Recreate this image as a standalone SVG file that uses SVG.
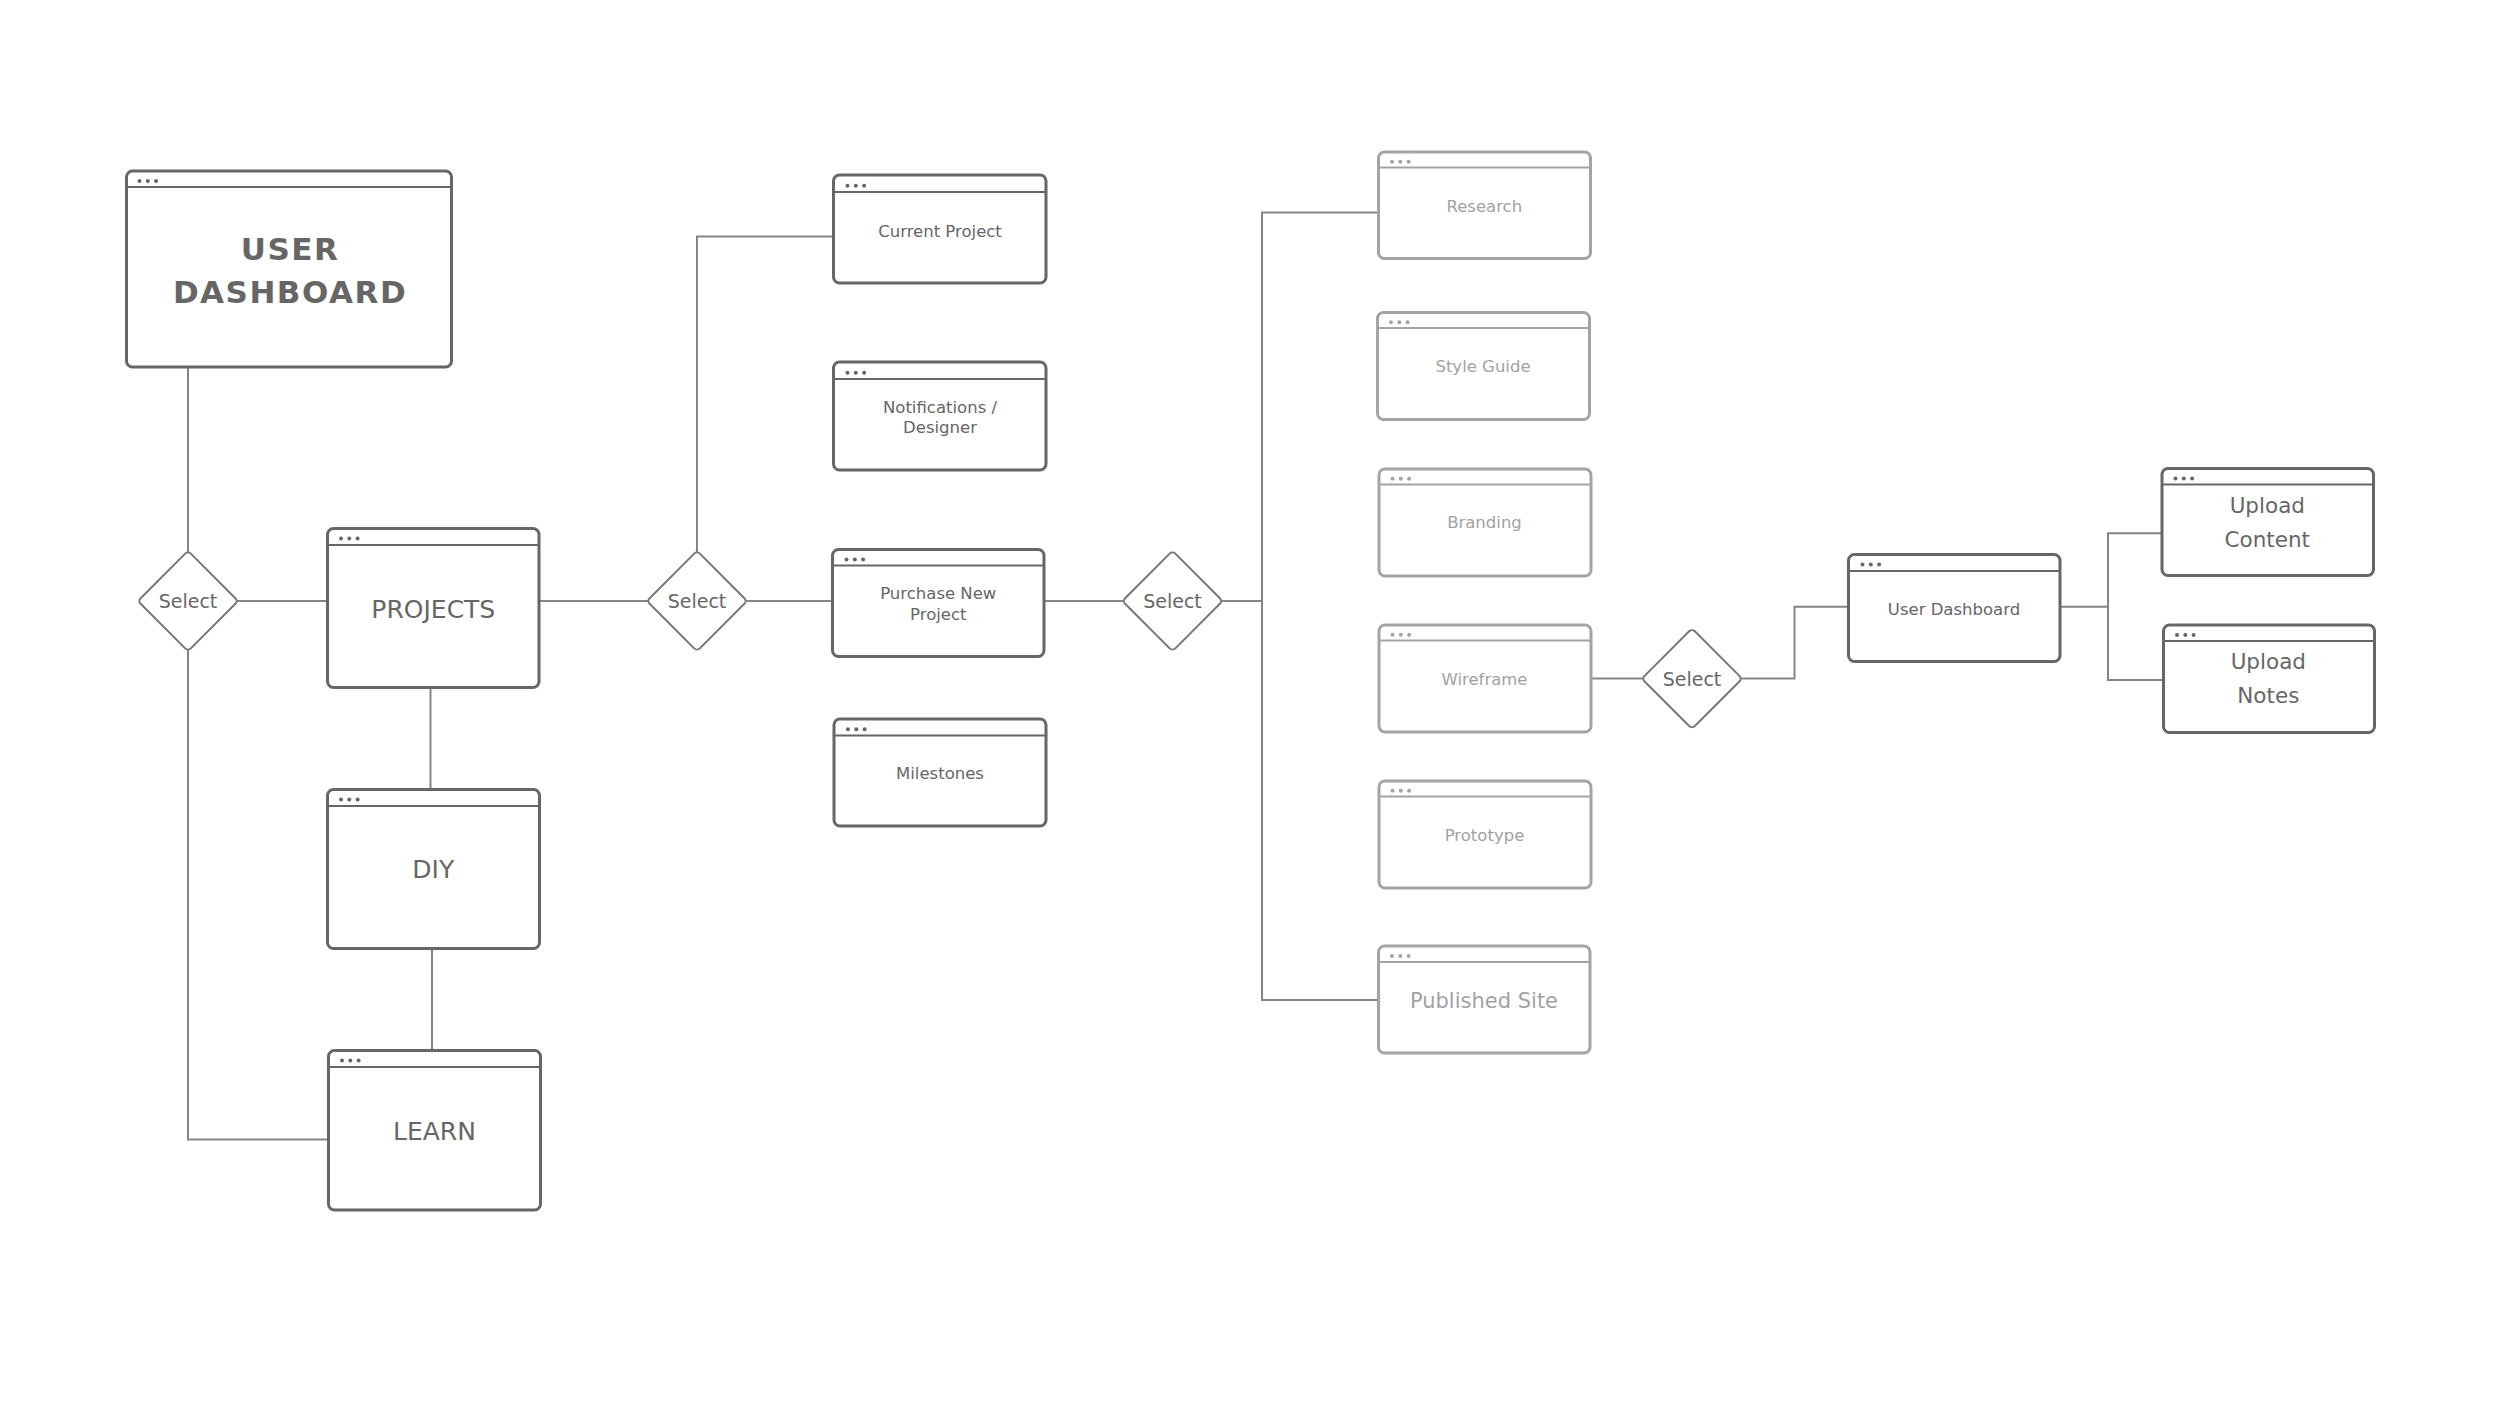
<svg xmlns="http://www.w3.org/2000/svg" width="2500" height="1402" viewBox="0 0 2500 1402">
<style>
  .bg{fill:#ffffff}
  .box{fill:#ffffff;stroke:#666666;stroke-width:3}
  .hdr{stroke:#666666;stroke-width:2}
  .dot{fill:#666666}
  .lbox .box{stroke:#a4a4a4}
  .lbox .hdr{stroke:#a4a4a4}
  .lbox .dot{fill:#a4a4a4}
  .t{font-family:"DejaVu Sans",Verdana,sans-serif;fill:#666666;text-anchor:middle}
  .lbox .t{fill:#a2a2a2}
  .big{font-size:31px;font-weight:bold;letter-spacing:1.5px}
  .mid{font-size:25px}
  .sm{font-size:16.5px}
  .up{font-size:21.5px}
  .pub{font-size:21px}
  .dia{fill:#ffffff;stroke:#777777;stroke-width:2}
  .sel{font-size:19px}
  .conn{fill:none;stroke:#858585;stroke-width:2}
</style>
<rect class="bg" x="0" y="0" width="2500" height="1402"/>

<g id="connectors">
  <path class="conn" d="M188,367 V552"/>
  <path class="conn" d="M188,650 V1139.5 H328.5"/>
  <path class="conn" d="M237,601 H327.5"/>
  <path class="conn" d="M430.5,687.5 V789.5"/>
  <path class="conn" d="M432,948.5 V1050.5"/>
  <path class="conn" d="M539,601 H648"/>
  <path class="conn" d="M746,601 H832.5"/>
  <path class="conn" d="M697,552 V236.5 H833.5"/>
  <path class="conn" d="M1044,601 H1123.5"/>
  <path class="conn" d="M1221.5,601 H1262"/>
  <path class="conn" d="M1378.5,212.5 H1262 V1000 H1378.5"/>
  <path class="conn" d="M1591,678.5 H1643"/>
  <path class="conn" d="M1741,678.5 H1794.5 V606.7 H1848.5"/>
  <path class="conn" d="M2060,606.7 H2108"/>
  <path class="conn" d="M2162,533.3 H2108 V680 H2163.5"/>
</g>

<g id="user-dashboard">
  <rect class="box" x="126.5" y="171" width="325" height="196" rx="6"/>
  <line class="hdr" x1="127.5" y1="187" x2="450.5" y2="187"/>
  <circle class="dot" cx="139.5" cy="181" r="2"/><circle class="dot" cx="147.8" cy="181" r="2"/><circle class="dot" cx="156.1" cy="181" r="2"/>
  <text class="t big" x="290" y="260">USER</text>
  <text class="t big" x="290" y="302.7">DASHBOARD</text>
</g>

<g id="select-1">
  <rect class="dia" x="-35.5" y="-35.5" width="71" height="71" rx="4" transform="translate(188,601) rotate(45)"/>
  <text class="t sel" x="188" y="608">Select</text>
</g>

<g id="projects">
  <rect class="box" x="327.5" y="528.5" width="211.5" height="159" rx="6"/>
  <line class="hdr" x1="328.5" y1="545" x2="538" y2="545"/>
  <circle class="dot" cx="341" cy="538.5" r="2"/><circle class="dot" cx="349.3" cy="538.5" r="2"/><circle class="dot" cx="357.6" cy="538.5" r="2"/>
  <text class="t mid" x="433.3" y="617.7">PROJECTS</text>
</g>

<g id="diy">
  <rect class="box" x="327.5" y="789.5" width="212" height="159" rx="6"/>
  <line class="hdr" x1="328.5" y1="806" x2="538.5" y2="806"/>
  <circle class="dot" cx="341" cy="799.5" r="2"/><circle class="dot" cx="349.3" cy="799.5" r="2"/><circle class="dot" cx="357.6" cy="799.5" r="2"/>
  <text class="t mid" x="433.3" y="878">DIY</text>
</g>

<g id="learn">
  <rect class="box" x="328.5" y="1050.5" width="212" height="159.5" rx="6"/>
  <line class="hdr" x1="329.5" y1="1067" x2="539.5" y2="1067"/>
  <circle class="dot" cx="342" cy="1060.5" r="2"/><circle class="dot" cx="350.3" cy="1060.5" r="2"/><circle class="dot" cx="358.6" cy="1060.5" r="2"/>
  <text class="t mid" x="434.5" y="1140">LEARN</text>
</g>

<g id="select-2">
  <rect class="dia" x="-35.5" y="-35.5" width="71" height="71" rx="4" transform="translate(697,601) rotate(45)"/>
  <text class="t sel" x="697" y="608">Select</text>
</g>

<g id="current-project">
  <rect class="box" x="833.5" y="175" width="212.5" height="108" rx="6"/>
  <line class="hdr" x1="834.5" y1="192" x2="1045" y2="192"/>
  <circle class="dot" cx="847.5" cy="185.7" r="2"/><circle class="dot" cx="855.8" cy="185.7" r="2"/><circle class="dot" cx="864.1" cy="185.7" r="2"/>
  <text class="t sm" x="940" y="236.5">Current Project</text>
</g>

<g id="notifications">
  <rect class="box" x="833.5" y="362" width="212.5" height="108" rx="6"/>
  <line class="hdr" x1="834.5" y1="379" x2="1045" y2="379"/>
  <circle class="dot" cx="847.5" cy="372.7" r="2"/><circle class="dot" cx="855.8" cy="372.7" r="2"/><circle class="dot" cx="864.1" cy="372.7" r="2"/>
  <text class="t sm" x="940" y="412.7">Notifications /</text>
  <text class="t sm" x="940" y="433.3">Designer</text>
</g>

<g id="purchase-new-project">
  <rect class="box" x="832.5" y="549.5" width="211.5" height="107" rx="6"/>
  <line class="hdr" x1="833.5" y1="565.5" x2="1043" y2="565.5"/>
  <circle class="dot" cx="846.5" cy="559.5" r="2"/><circle class="dot" cx="854.8" cy="559.5" r="2"/><circle class="dot" cx="863.1" cy="559.5" r="2"/>
  <text class="t sm" x="938.3" y="599.3">Purchase New</text>
  <text class="t sm" x="938.3" y="620">Project</text>
</g>

<g id="milestones">
  <rect class="box" x="834" y="719" width="212" height="107" rx="6"/>
  <line class="hdr" x1="835" y1="735.5" x2="1045" y2="735.5"/>
  <circle class="dot" cx="848" cy="729.2" r="2"/><circle class="dot" cx="856.3" cy="729.2" r="2"/><circle class="dot" cx="864.6" cy="729.2" r="2"/>
  <text class="t sm" x="940" y="779">Milestones</text>
</g>

<g id="select-3">
  <rect class="dia" x="-35.5" y="-35.5" width="71" height="71" rx="4" transform="translate(1172.5,601) rotate(45)"/>
  <text class="t sel" x="1172.5" y="608">Select</text>
</g>

<g id="research" class="lbox">
  <rect class="box" x="1378.5" y="152" width="212" height="106.5" rx="6"/>
  <line class="hdr" x1="1379.5" y1="167.5" x2="1589.5" y2="167.5"/>
  <circle class="dot" cx="1392" cy="161.7" r="2"/><circle class="dot" cx="1400.3" cy="161.7" r="2"/><circle class="dot" cx="1408.6" cy="161.7" r="2"/>
  <text class="t sm" x="1484.3" y="211.7">Research</text>
</g>

<g id="style-guide" class="lbox">
  <rect class="box" x="1377.5" y="312.5" width="212" height="107" rx="6"/>
  <line class="hdr" x1="1378.5" y1="328" x2="1588.5" y2="328"/>
  <circle class="dot" cx="1391" cy="322.2" r="2"/><circle class="dot" cx="1399.3" cy="322.2" r="2"/><circle class="dot" cx="1407.6" cy="322.2" r="2"/>
  <text class="t sm" x="1483" y="372">Style Guide</text>
</g>

<g id="branding" class="lbox">
  <rect class="box" x="1379" y="469" width="212" height="107" rx="6"/>
  <line class="hdr" x1="1380" y1="484.5" x2="1590" y2="484.5"/>
  <circle class="dot" cx="1392.5" cy="478.7" r="2"/><circle class="dot" cx="1400.8" cy="478.7" r="2"/><circle class="dot" cx="1409.1" cy="478.7" r="2"/>
  <text class="t sm" x="1484.5" y="528">Branding</text>
</g>

<g id="wireframe" class="lbox">
  <rect class="box" x="1379" y="625" width="212" height="107" rx="6"/>
  <line class="hdr" x1="1380" y1="640.5" x2="1590" y2="640.5"/>
  <circle class="dot" cx="1392.5" cy="634.7" r="2"/><circle class="dot" cx="1400.8" cy="634.7" r="2"/><circle class="dot" cx="1409.1" cy="634.7" r="2"/>
  <text class="t sm" x="1484.5" y="685">Wireframe</text>
</g>

<g id="prototype" class="lbox">
  <rect class="box" x="1379" y="781" width="212" height="107" rx="6"/>
  <line class="hdr" x1="1380" y1="796.5" x2="1590" y2="796.5"/>
  <circle class="dot" cx="1392.5" cy="790.7" r="2"/><circle class="dot" cx="1400.8" cy="790.7" r="2"/><circle class="dot" cx="1409.1" cy="790.7" r="2"/>
  <text class="t sm" x="1484.5" y="841">Prototype</text>
</g>

<g id="published-site" class="lbox">
  <rect class="box" x="1378.5" y="946" width="211.5" height="107" rx="6"/>
  <line class="hdr" x1="1379.5" y1="962" x2="1589" y2="962"/>
  <circle class="dot" cx="1392" cy="956" r="2"/><circle class="dot" cx="1400.3" cy="956" r="2"/><circle class="dot" cx="1408.6" cy="956" r="2"/>
  <text class="t pub" x="1484" y="1007.7">Published Site</text>
</g>

<g id="select-4">
  <rect class="dia" x="-35.5" y="-35.5" width="71" height="71" rx="4" transform="translate(1692,678.7) rotate(45)"/>
  <text class="t sel" x="1692" y="685.7">Select</text>
</g>

<g id="user-dashboard-2">
  <rect class="box" x="1848.5" y="554.5" width="211.5" height="107" rx="6"/>
  <line class="hdr" x1="1849.5" y1="571" x2="2059" y2="571"/>
  <circle class="dot" cx="1862.5" cy="564.5" r="2"/><circle class="dot" cx="1870.8" cy="564.5" r="2"/><circle class="dot" cx="1879.1" cy="564.5" r="2"/>
  <text class="t sm" x="1954" y="615">User Dashboard</text>
</g>

<g id="upload-content">
  <rect class="box" x="2162" y="468.5" width="211.5" height="107" rx="6"/>
  <line class="hdr" x1="2163" y1="484.5" x2="2372.5" y2="484.5"/>
  <circle class="dot" cx="2175.5" cy="478.5" r="2"/><circle class="dot" cx="2183.8" cy="478.5" r="2"/><circle class="dot" cx="2192.1" cy="478.5" r="2"/>
  <text class="t up" x="2267.3" y="513.3">Upload</text>
  <text class="t up" x="2267.3" y="547.3">Content</text>
</g>

<g id="upload-notes">
  <rect class="box" x="2163.5" y="625" width="211" height="107.5" rx="6"/>
  <line class="hdr" x1="2164.5" y1="641" x2="2373.5" y2="641"/>
  <circle class="dot" cx="2177" cy="635" r="2"/><circle class="dot" cx="2185.3" cy="635" r="2"/><circle class="dot" cx="2193.6" cy="635" r="2"/>
  <text class="t up" x="2268.3" y="669.3">Upload</text>
  <text class="t up" x="2268.3" y="703.3">Notes</text>
</g>
</svg>
